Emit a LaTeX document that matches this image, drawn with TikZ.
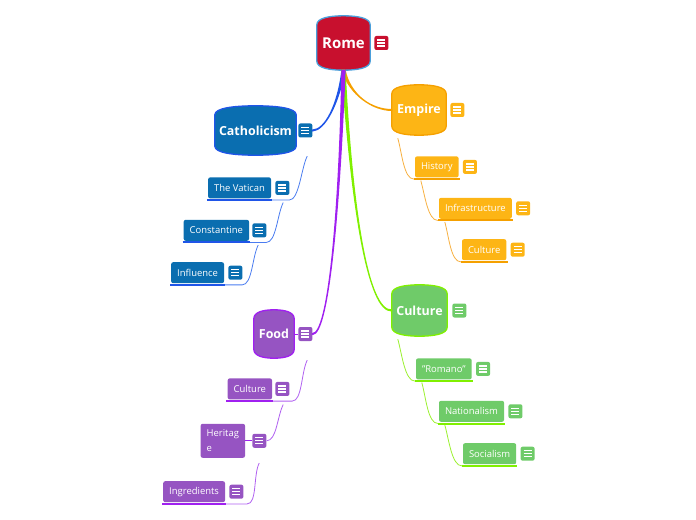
\documentclass[tikz,border=0pt]{standalone}
\usepackage{fontspec}
\setmainfont{Open Sans}
\usetikzlibrary{positioning,calc,backgrounds}

\definecolor{romeF}{HTML}{C8102E}
\definecolor{romeD}{HTML}{4A9FDB}
\definecolor{cathF}{HTML}{0A6EB0}
\definecolor{cathD}{HTML}{1F55E8}
\definecolor{cathT}{HTML}{4A7CF0}
\definecolor{empF}{HTML}{FDB515}
\definecolor{empD}{HTML}{F5A000}
\definecolor{empT}{HTML}{F7B040}
\definecolor{culF}{HTML}{6FCB69}
\definecolor{culD}{HTML}{80F000}
\definecolor{culT}{HTML}{9BF030}
\definecolor{foodF}{HTML}{9654C2}
\definecolor{foodD}{HTML}{A020F0}
\definecolor{foodT}{HTML}{B060F0}

% barrel shape behind a topic node
\newcommand\topicbarrel[3]{%
  \begin{scope}[on background layer]
    \filldraw[fill=#2,draw=#3,line width=1.3bp]
      ($(#1.north west)+(0,9)$) .. controls ($(#1.north west)+(0,2)$) and ($(#1.north)!.5!(#1.north west)$) .. (#1.north)
      .. controls ($(#1.north)!.5!(#1.north east)$) and ($(#1.north east)+(0,2)$) .. ($(#1.north east)+(0,9)$)
      -- ($(#1.south east)+(0,-9)$) .. controls ($(#1.south east)+(0,-2)$) and ($(#1.south)!.5!(#1.south east)$) .. (#1.south)
      .. controls ($(#1.south)!.5!(#1.south west)$) and ($(#1.south west)+(0,-2)$) .. ($(#1.south west)+(0,-9)$) -- cycle;
  \end{scope}}

% tapered main branch
\newcommand\mainbranch[5]{%
  \filldraw[#1,line width=1.3bp,line join=round] ($(#2)+(-1.5,0)$) .. controls (#3) and (#4) .. ($(#5)+(0,-0.4)$)
    -- ($(#5)+(0,0.4)$) .. controls (#4) and (#3) .. ($(#2)+(1.5,0)$) -- cycle;}

\begin{document}
\begin{tikzpicture}[x=1bp,y=-1bp,
  topic/.style={text=white,inner sep=0pt,font=\bfseries\fontsize{12.5}{15}\selectfont},
  sub/.style={fill=#1,text=white,rounded corners=2bp,minimum height=21bp,inner xsep=6bp,
    inner ysep=0pt,font=\fontsize{9.5}{11}\selectfont},
  note/.style={fill=#1,rounded corners=2bp,minimum size=14bp,inner sep=0pt,
    path picture={\foreach \k in {-3,0,3}
      \draw[white,line width=1.3bp] ($(path picture bounding box.center)+(-4,\k)$) -- ++(8,0);}},
  uline/.style={draw=#1,line width=2bp},
  twig/.style={draw=#1,line width=0.8bp}
]
\useasboundingbox (0,0) rectangle (696,520);

% topics
\node[topic,minimum width=53bp,minimum height=54bp,font=\bfseries\fontsize{15}{18}\selectfont] (rome) at (343.5,43) {Rome};
\topicbarrel{rome}{romeF}{romeD}
\node[note=romeF,right=4bp of rome] (romeI) {};

\node[topic,minimum width=81bp,minimum height=49bp] (cath) at (255.5,130.5) {Catholicism};
\topicbarrel{cath}{cathF}{cathD}
\node[note=cathF,right=2bp of cath] (cathI) {};

\node[topic,minimum width=54bp,minimum height=50bp] (empire) at (419,110) {Empire};
\topicbarrel{empire}{empF}{empD}
\node[note=empF,right=4bp of empire] (empireI) {};

\node[topic,minimum width=55bp,minimum height=51bp] (cult) at (419.5,310.5) {Culture};
\topicbarrel{cult}{culF}{culD}
\node[note=culF,right=5bp of cult] (cultI) {};

\node[topic,minimum width=40bp,minimum height=48bp] (food) at (274,334) {Food};
\topicbarrel{food}{foodF}{foodD}
\node[note=foodF,right=4bp of food] (foodI) {};
\draw[twig=foodD] (food.east) -- (foodI.west);

% main branches
\mainbranch{cathD}{rome.south}{338,105}{325,130}{cathI.east}
\mainbranch{empD}{rome.south}{350,95}{372,110}{empire.west}
\mainbranch{culD}{rome.south}{352,210}{368,312}{cult.west}
\mainbranch{foodD}{rome.south}{339,220}{328,334}{foodI.east}

% Catholicism
\node[sub=cathF,below left=22bp and 25bp of cath.south east] (vatican) {The Vatican};
\node[note=cathF,right=4bp of vatican] (vaticanI) {};
\node[sub=cathF,below left=21bp and 22bp of vatican.south east] (constantine) {Constantine};
\node[note=cathF,right=3bp of constantine] (constantineI) {};
\node[sub=cathF,below left=21bp and 25bp of constantine.south east] (influence) {Influence};
\node[note=cathF,right=4bp of influence] (influenceI) {};

% Empire
\node[sub=empF,below right=21bp and 23bp of empire.south west] (history) {History};
\node[note=empF,right=4bp of history] (historyI) {};
\node[sub=empF,below right=20bp and 24bp of history.south west] (infra) {Infrastructure};
\node[note=empF,right=4bp of infra] (infraI) {};
\node[sub=empF,below right=20bp and 23bp of infra.south west] (empcul) {Culture};
\node[note=empF,right=4bp of empcul] (empculI) {};

% Culture
\node[sub=culF,below right=22bp and 24bp of cult.south west] (romano) {"Romano"};
\node[note=culF,right=4bp of romano] (romanoI) {};
\node[sub=culF,below right=21bp and 23bp of romano.south west] (nation) {Nationalism};
\node[note=culF,right=4bp of nation] (nationI) {};
\node[sub=culF,below right=21bp and 24bp of nation.south west] (social) {Socialism};
\node[note=culF,right=4bp of social] (socialI) {};

% Food
\node[sub=foodF,below left=20bp and 22bp of food.south east] (foodcul) {Culture};
\node[note=foodF,right=3bp of foodcul] (foodculI) {};
\node[sub=foodF,below left=24bp and 27bp of foodcul.south east,minimum height=34bp,
  align=left,font=\fontsize{9.5}{15}\selectfont] (heritage) {Heritag\\e};
\node[note=foodF,right=7bp of heritage] (heritageI) {};
\draw[twig=foodD] (heritage.east) -- (heritageI.west);
\node[sub=foodF,below left=23bp and 20bp of heritage.south east] (ingred) {Ingredients};
\node[note=foodF,right=4bp of ingred] (ingredI) {};

% underlines
\foreach \n/\c in {vatican/cathD,constantine/cathD,influence/cathD,
    history/empD,infra/empD,empcul/empD,
    romano/culD,nation/culD,social/culD,
    foodcul/foodD,ingred/foodD}
  \draw[uline=\c] ([shift={(-1bp,-1.5bp)}]\n.south west) -- ([shift={(1bp,-1.5bp)}]\n.south east);

% twigs, right side
\foreach \a/\b/\c in {empire/history/empT,history/infra/empT,infra/empcul/empT,
    cult/romano/culT,romano/nation/culT,nation/social/culT}
  \draw[twig=\c] ($(\a.south west)+(6,3)$) .. controls +(4,14) and +(-10,0) .. ([shift={(-1bp,-1.5bp)}]\b.south west);

% twigs, left side
\draw[twig=cathT] ($(cath.south east)+(11,1)$) .. controls +(-6,12) and +(10,0) .. ($(vatican.south east)+(18,1.5)$)
  -- ([shift={(1bp,-1.5bp)}]vatican.south east);
\draw[twig=cathT] ($(vatican.south east)+(12,4)$) .. controls +(-6,12) and +(10,0) .. ($(constantine.south east)+(17,1.5)$)
  -- ([shift={(1bp,-1.5bp)}]constantine.south east);
\draw[twig=cathT] ($(constantine.south east)+(9,4)$) .. controls +(-6,12) and +(10,0) .. ($(influence.south east)+(18,1.5)$)
  -- ([shift={(1bp,-1.5bp)}]influence.south east);
\draw[twig=foodT] ($(food.south east)+(13,2)$) .. controls +(-6,12) and +(10,0) .. ($(foodcul.south east)+(20,1.5)$)
  -- ([shift={(1bp,-1.5bp)}]foodcul.south east);
\draw[twig=foodT] ($(foodcul.south east)+(11,5)$) .. controls +(-6,12) and +(10,0) .. (heritageI.east);
\draw[twig=foodT] ($(heritage.south east)+(14,5)$) .. controls +(-6,12) and +(10,0) .. ($(ingred.south east)+(22,1.5)$)
  -- ([shift={(1bp,-1.5bp)}]ingred.south east);
\end{tikzpicture}
\end{document}
